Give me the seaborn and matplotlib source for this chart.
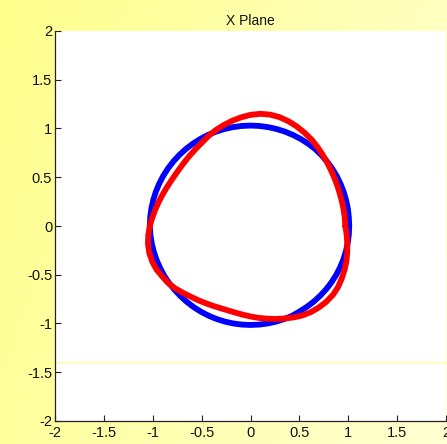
import numpy as np
import pandas as pd
import matplotlib
matplotlib.use("Agg")
import matplotlib.pyplot as plt
import seaborn as sns

angles_deg = list(range(0, 360, 5))
# Red curve radius at each angle
red_r = [0.970, 0.968, 0.967, 0.968, 0.972, 0.980, 0.990, 1.003, 1.020, 1.040,
         1.062, 1.085, 1.105, 1.125, 1.142, 1.155, 1.160, 1.155, 1.140, 1.118,
         1.095, 1.070, 1.045, 1.018, 0.990, 0.970, 0.955, 0.943, 0.935, 0.932,
         0.935, 0.943, 0.955, 0.970, 0.988, 1.008, 1.030, 1.050, 1.065, 1.072,
         1.070, 1.060, 1.040, 1.025, 1.000, 0.972, 0.948, 0.930, 0.915, 0.904,
         0.897, 0.896, 0.902, 0.913, 0.928, 0.946, 0.965, 0.987, 1.010, 1.035,
         1.060, 1.078, 1.090, 1.098, 1.100, 1.093, 1.078, 1.062, 1.045, 1.025,
         1.005, 0.987]
# Blue curve radius at each angle
blue_r = ([1.010, 1.010, 1.012, 1.013, 1.015, 1.017,
           1.020, 1.022, 1.025, 1.027, 1.030, 1.030]
          + [1.030] * 24
          + [1.030, 1.028, 1.026, 1.024, 1.022, 1.020,
             1.020, 1.018, 1.016, 1.015, 1.015, 1.015]
          + [1.015] * 12
          + [1.010] * 12)

x_ticks = [-2, -1.5, -1, -0.5, 0, 0.5, 1, 1.5, 2]
y_ticks = [-2, -1.5, -1, -0.5, 0, 0.5, 1, 1.5, 2]
x_tick_labels = ["-2", "-1.5", "-1", "-0.5", "0", "0.5", "1", "1.5", "2"]
y_tick_labels = ["-2", "-1.5", "-1", "-0.5", "0", "0.5", "1", "1.5", "2"]
title = "X Plane"


def build(name, radii):
    a = np.deg2rad(np.array(angles_deg + [angles_deg[0]], dtype=float))
    r = np.array(list(radii) + [radii[0]])
    return pd.DataFrame({"x": r * np.cos(a), "y": r * np.sin(a),
                         "series": name})


df = pd.concat([build("blue", blue_r), build("red", red_r)], ignore_index=True)

sns.set_style("white")
plt.rcParams["font.family"] = ["Liberation Sans", "DejaVu Sans"]

fig = plt.figure(figsize=(4.47, 4.44), dpi=100)

# yellow gradient background
bg = fig.add_axes([0, 0, 1, 1], zorder=0)
gx = np.linspace(0, 1, 300)
gy = np.linspace(0, 1, 300)
GX, GY = np.meshgrid(gx, gy)
t = np.clip(0.75 * GX + 0.25 * (1 - GY), 0, 1)
c0 = np.array([255, 255, 140]) / 255.0
c1 = np.array([255, 255, 210]) / 255.0
img = c0[None, None, :] * (1 - t[..., None]) + c1[None, None, :] * t[..., None]
bg.imshow(img, aspect="auto", extent=[0, 1, 0, 1], origin="lower")
bg.set_axis_off()

ax = fig.add_axes([55 / 447, 1 - 421 / 444, 391 / 447, 390 / 444], zorder=1)
ax.set_facecolor("white")

sns.lineplot(data=df[df.series == "blue"], x="x", y="y", sort=False,
             estimator=None, color="#0000ff", lw=4.2, ax=ax,
             legend=False, solid_joinstyle="round", solid_capstyle="round")
sns.lineplot(data=df[df.series == "red"], x="x", y="y", sort=False,
             estimator=None, color="#ff0000", lw=4.2, ax=ax,
             legend=False, solid_joinstyle="round", solid_capstyle="round")

ax.axhline(-1.395, color="#ffff99", lw=1, zorder=0.5)

ax.set_xlim(-2, 2)
ax.set_ylim(-2, 2)
ax.set_xticks(x_ticks)
ax.set_xticklabels(x_tick_labels)
ax.set_yticks(y_ticks)
ax.set_yticklabels(y_tick_labels)
ax.set_xlabel("")
ax.set_ylabel("")
ax.tick_params(direction="in", length=4, width=0.8, color="#222222",
               labelsize=10.5, labelcolor="#111111", pad=2,
               bottom=True, left=True, top=False, right=False)
ax.tick_params(axis="x", pad=3.5)
for s in ["top", "right"]:
    ax.spines[s].set_visible(False)
for s in ["left", "bottom"]:
    ax.spines[s].set_color("#222222")
    ax.spines[s].set_linewidth(0.9)
ax.set_title(title, fontsize=10, color="#111111", pad=4)

fig.savefig("out.png", dpi=100)
